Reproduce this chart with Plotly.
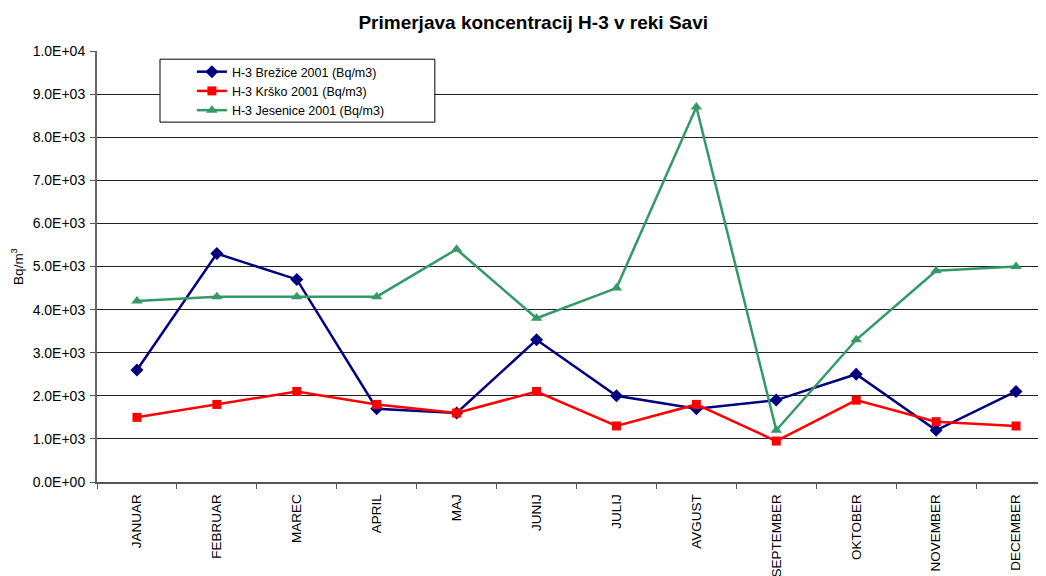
import plotly.graph_objects as go

months = ["JANUAR", "FEBRUAR", "MAREC", "APRIL", "MAJ", "JUNIJ", "JULIJ",
          "AVGUST", "SEPTEMBER", "OKTOBER", "NOVEMBER", "DECEMBER"]
brezice = [2600, 5300, 4700, 1700, 1600, 3300, 2000, 1700, 1900, 2500, 1200, 2100]
krsko = [1500, 1800, 2100, 1800, 1600, 2100, 1300, 1800, 950, 1900, 1400, 1300]
jesenice = [4200, 4300, 4300, 4300, 5400, 3800, 4500, 8700, 1200, 3300, 4900, 5000]

y_ticks = [0, 1000, 2000, 3000, 4000, 5000, 6000, 7000, 8000, 9000, 10000]
y_labels = ["0.0E+00", "1.0E+03", "2.0E+03", "3.0E+03", "4.0E+03", "5.0E+03",
            "6.0E+03", "7.0E+03", "8.0E+03", "9.0E+03", "1.0E+04"]

FONT = "Arial, Liberation Sans, sans-serif"

fig = go.Figure()
fig.add_trace(go.Scatter(x=months, y=brezice, mode="lines+markers",
                         name="H-3 Brežice 2001 (Bq/m3)",
                         line=dict(color="#000080", width=2.5),
                         marker=dict(symbol="diamond", size=10, color="#000080")))
fig.add_trace(go.Scatter(x=months, y=krsko, mode="lines+markers",
                         name="H-3 Krško 2001 (Bq/m3)",
                         line=dict(color="#FF0000", width=2.5),
                         marker=dict(symbol="square", size=9, color="#FF0000")))
fig.add_trace(go.Scatter(x=months, y=jesenice, mode="lines+markers",
                         name="H-3 Jesenice 2001 (Bq/m3)",
                         line=dict(color="#339966", width=2.5),
                         marker=dict(symbol="triangle-up", size=10, color="#339966")))

# legend frame
fig.add_shape(type="rect", xref="paper", yref="paper",
              x0=0.0664, x1=0.356, y0=0.835, y1=0.981,
              line=dict(color="black", width=1), fillcolor="white", layer="above")

fig.update_layout(
    width=1038, height=568,
    margin=dict(l=89, r=0, t=43, b=94, autoexpand=False),
    paper_bgcolor="white", plot_bgcolor="white",
    font=dict(family=FONT, size=12, color="black"),
    title=dict(text="<b>Primerjava koncentracij H-3 v reki Savi</b>",
               x=0.506, xanchor="center", y=0.975, yanchor="middle",
               font=dict(size=19, color="black", family=FONT)),
    showlegend=True,
    legend=dict(x=0.100, y=0.986, xanchor="left", yanchor="top",
                bgcolor="rgba(0,0,0,0)", borderwidth=0,
                font=dict(size=12.5, family=FONT), tracegroupgap=0),
    xaxis=dict(type="category", range=[-0.5, 11.375], tickson="boundaries",
               ticks="outside", ticklen=5, tickcolor="#555555",
               tickangle=-90, showgrid=False, showline=True,
               linecolor="#555555", linewidth=1.5, zeroline=False,
               ticklabelstandoff=5,
               tickfont=dict(size=13.5, family=FONT)),
    yaxis=dict(range=[0, 10000], tickvals=y_ticks, ticktext=y_labels,
               ticks="outside", ticklen=5, tickcolor="#555555",
               showgrid=True, gridcolor="#222222", gridwidth=1,
               showline=True, linecolor="#666666", linewidth=2,
               zeroline=False, tickfont=dict(size=14, family=FONT),
               ticklabelstandoff=2,
               title=dict(text="Bq/m<sup>3</sup>", font=dict(size=13.5, family=FONT),
                          standoff=8)),
)

fig.write_html("out.html")
